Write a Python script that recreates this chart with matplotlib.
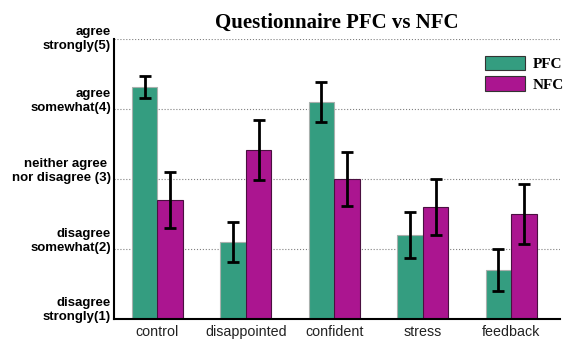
import numpy as np
import matplotlib.pyplot as plt
from matplotlib.transforms import ScaledTranslation

# Data
categories = ['control', 'disappointed', 'confident', 'stress', 'feedback']
pfc_mean = [4.31, 2.10, 4.10, 2.20, 1.70]
pfc_err = [0.16, 0.28, 0.28, 0.33, 0.30]
nfc_mean = [2.70, 3.41, 3.00, 2.60, 2.50]
nfc_err = [0.40, 0.43, 0.39, 0.40, 0.43]
levels = [1, 2, 3, 4, 5]
ytick_labels = ['disagree\nstrongly(1)', 'disagree\nsomewhat(2)',
                'neither agree \nnor disagree (3)', 'agree\nsomewhat(4)',
                'agree\nstrongly(5)']

x = np.arange(len(categories))
w = 0.29

fig = plt.figure(figsize=(5.63, 3.39), dpi=100)
ax = fig.add_axes([0.2025, 0.059, 0.792, 0.826])

ax.bar(x - w / 2, np.array(pfc_mean) - 1, w, bottom=1, color='#349d80',
       edgecolor='#a8b0ad', linewidth=0.8, label='PFC', zorder=2)
ax.bar(x + w / 2, np.array(nfc_mean) - 1, w, bottom=1, color='#ab1590',
       edgecolor='#4a1040', linewidth=0.8, label='NFC', zorder=2)
ax.errorbar(x - w / 2, pfc_mean, yerr=pfc_err, fmt='none', ecolor='black',
            elinewidth=2, capsize=4, capthick=2, zorder=3)
ax.errorbar(x + w / 2, nfc_mean, yerr=nfc_err, fmt='none', ecolor='black',
            elinewidth=2, capsize=4, capthick=2, zorder=3)

ax.set_xlim(-0.49, 4.55)
ax.set_ylim(1, 5)
ax.set_yticks(levels)
ax.set_yticklabels([])
# labels drawn by hand so the second line sits on its tick
shifts = [9, 8, 8, 8, 0]
for lv, txt, s in zip(levels, ytick_labels, shifts):
    tr = ax.get_yaxis_transform() + ScaledTranslation(-3 / 100, s / 100, fig.dpi_scale_trans)
    ax.text(0, lv, txt, transform=tr, ha='right', va='center', multialignment='right',
            fontsize=9.5, fontweight='bold', family='Liberation Sans', linespacing=1.3)
ax.set_xticks(x)
ax.set_xticklabels(categories, fontsize=10.3, family='Liberation Sans', color='#222222')
ax.tick_params(axis='y', length=0)
ax.tick_params(axis='x', length=0, pad=4)
ax.yaxis.grid(True, linestyle=':', color='gray', linewidth=0.8, zorder=0)
ax.set_axisbelow(True)
for s in ['top', 'right']:
    ax.spines[s].set_visible(False)
ax.spines['left'].set_linewidth(1.5)
ax.spines['bottom'].set_linewidth(1.5)

ax.set_title('Questionnaire PFC vs NFC', family='Liberation Serif',
             fontweight='bold', fontsize=15, pad=8)
leg = ax.legend(loc='upper right', bbox_to_anchor=(1.04, 0.99), frameon=False,
                prop={'family': 'Liberation Serif', 'weight': 'bold', 'size': 11},
                handlelength=2.6, handleheight=1.1, handletextpad=0.5,
                labelspacing=0.35)
for p in leg.get_patches():
    p.set_edgecolor('#333333')

fig.savefig('out.png', dpi=100)
